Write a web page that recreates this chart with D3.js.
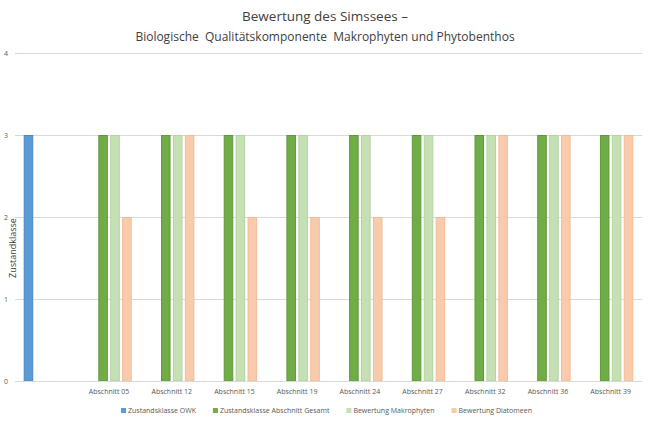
<!DOCTYPE html>
<html><head><meta charset="utf-8">
<script src="https://cdn.jsdelivr.net/npm/d3@7"></script>
<style>body{margin:0;background:#fff}svg{display:block}text{font-family:"Open Sans",sans-serif}</style>
</head><body>
<svg id="c" width="650" height="422"></svg>
<script>
const categories = ["", "Abschnitt 05", "Abschnitt 12", "Abschnitt 15", "Abschnitt 19", "Abschnitt 24", "Abschnitt 27", "Abschnitt 32", "Abschnitt 36", "Abschnitt 39"];
const seriesNames = ["Zustandsklasse OWK", "Zustandsklasse Abschnitt Gesamt", "Bewertung Makrophyten", "Bewertung Diatomeen"];
const owk = [3, null, null, null, null, null, null, null, null, null];
const gesamt = [null, 3, 3, 3, 3, 3, 3, 3, 3, 3];
const makrophyten = [null, 3, 3, 3, 3, 3, 3, 3, 3, 3];
const diatomeen = [null, 2, 3, 2, 2, 2, 2, 3, 3, 3];
const yTicks = [0, 1, 2, 3, 4];
const title = "Bewertung des Simssees –";
const subtitle = "Biologische  Qualitätskomponente  Makrophyten und Phytobenthos";
const yLabel = "Zustandklasse";

const seriesValues = [owk, gesamt, makrophyten, diatomeen];
const fills = ["#5B9BD5", "#70AD47", "#C5E0B4", "#F8CBAD"];
const strokes = ["#4A88C4", "#5E9A38", "#B4D3A0", "#F2BC99"];

const svg = d3.select("#c");
const L = 15, R = 642, T = 53, B = 381;
const x0 = d3.scaleBand().domain(categories).range([L, R]).paddingInner(0.27).paddingOuter(0.135);
const x1 = d3.scaleBand().domain(seriesNames).range([0, x0.bandwidth()]).paddingInner(0.2).paddingOuter(0.02);
const y = d3.scaleLinear().domain([0, 4]).range([B, T]);

// grid
const yAxis = d3.axisLeft(y).tickValues(yTicks).tickSize(-(R - L)).tickFormat(d3.format("d"));
const gy = svg.append("g").attr("transform", `translate(${L},0)`).call(yAxis);
gy.select(".domain").remove();
gy.selectAll(".tick line").attr("stroke", "#D9D9D9").attr("stroke-width", 1);
gy.selectAll(".tick text").attr("x", -7).attr("fill", "#595959").style("font-size", "7px");

// bars
seriesNames.forEach((s, si) => {
  svg.append("g").selectAll("rect")
    .data(categories.map((c, i) => ({c, v: seriesValues[si][i]})).filter(d => d.v != null))
    .join("rect")
    .attr("x", d => x0(d.c) + x1(s) + 0.5)
    .attr("y", d => y(d.v) + 0.5)
    .attr("width", x1.bandwidth() - 1)
    .attr("height", d => y(0) - y(d.v) - 0.5)
    .attr("fill", fills[si])
    .attr("stroke", strokes[si])
    .attr("stroke-width", 1);
});

// x axis
const xAxis = d3.axisBottom(x0).tickSize(0).tickPadding(8);
const gx = svg.append("g").attr("transform", `translate(0,${B})`).call(xAxis);
gx.select(".domain").attr("stroke", "#D9D9D9");
gx.selectAll(".tick text").attr("fill", "#595959").style("font-size", "7px");

// titles
svg.append("text").attr("x", 325).attr("y", 21).attr("text-anchor", "middle")
  .attr("fill", "#404040").style("font-size", "13.5px").text(title);
svg.append("text").attr("x", 325).attr("y", 41).attr("text-anchor", "middle")
  .attr("fill", "#404040").style("font-size", "12px").style("white-space", "pre").text(subtitle);

// y label
svg.append("text").attr("transform", `translate(16,248) rotate(-90)`).attr("text-anchor", "middle")
  .attr("fill", "#404040").style("font-size", "9px").text(yLabel);

// legend
const lg = svg.append("g");
let cx = 0;
seriesNames.forEach((s, si) => {
  const g = lg.append("g").attr("transform", `translate(${cx},0)`);
  g.append("rect").attr("x", 0).attr("y", -5).attr("width", 5).attr("height", 5).attr("fill", fills[si]);
  const t = g.append("text").attr("x", 7).attr("y", 0).attr("fill", "#595959").style("font-size", "7px").text(s);
  cx += 7 + t.node().getComputedTextLength() + 17;
});
const lw = cx - 17;
lg.attr("transform", `translate(${326.5 - lw / 2},413)`);
</script>
</body></html>
